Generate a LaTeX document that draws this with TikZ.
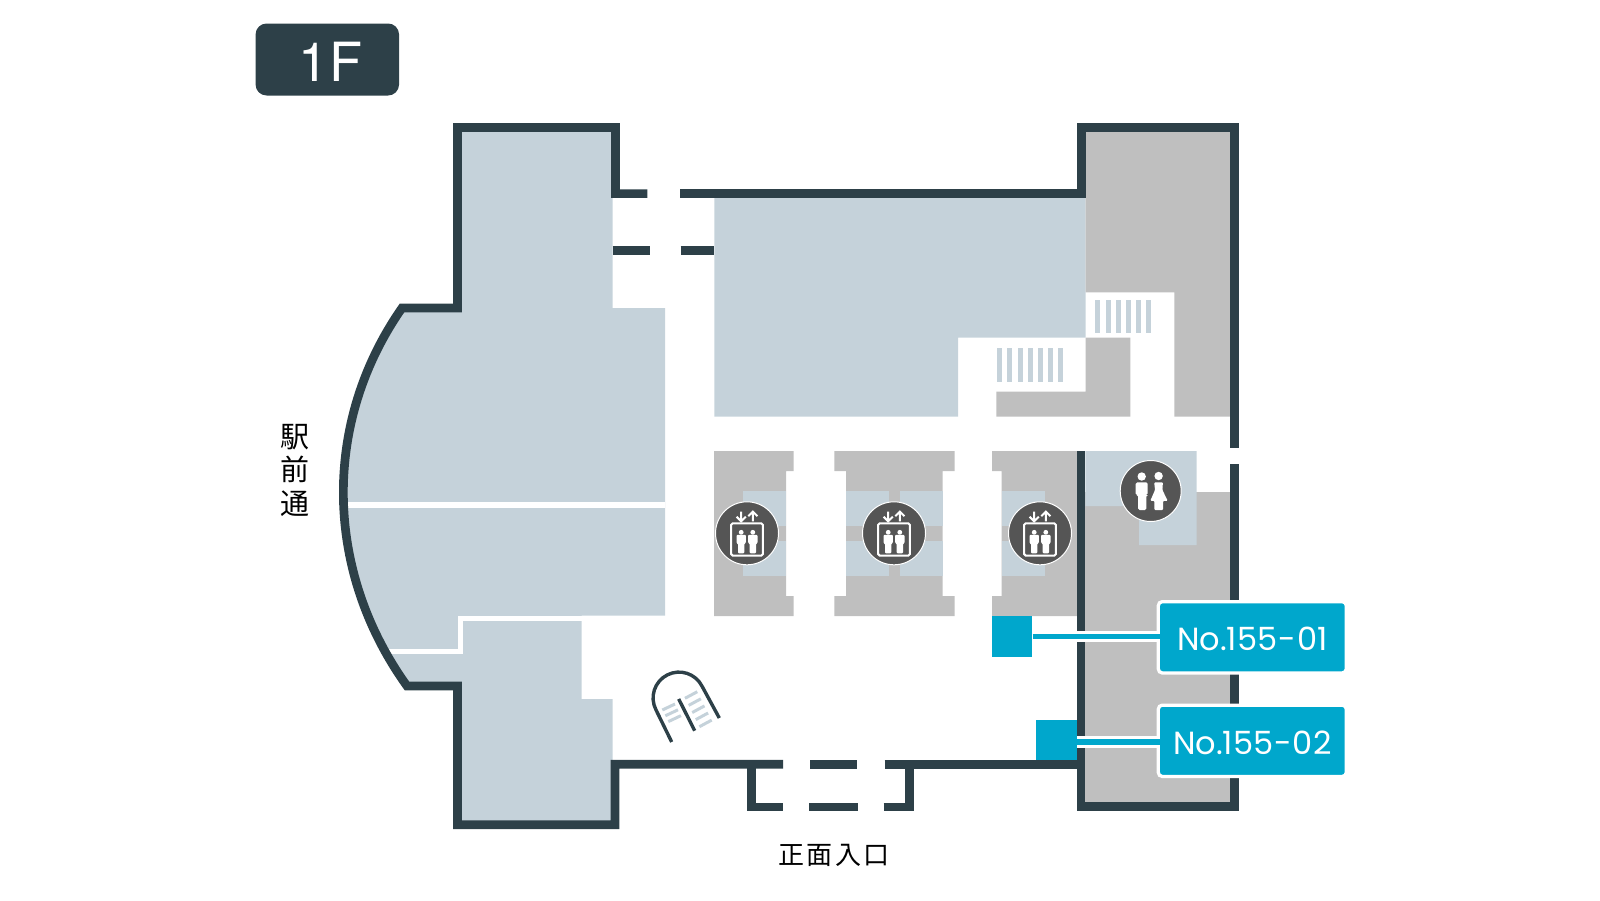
\documentclass[tikz,border=0pt]{standalone}
\usepackage{fontspec}
\newfontfamily\cjkfont{Noto Sans CJK JP}
\newfontfamily\labelfont{Poppins}
\newfontfamily\floorfont{TeX Gyre Heros}
\definecolor{wallcol}{HTML}{2D4048}
\definecolor{roomblue}{HTML}{C5D2DA}
\definecolor{roomgray}{HTML}{BFBFBF}
\definecolor{shopcol}{HTML}{00A7CC}
\definecolor{iconcol}{HTML}{555555}
\begin{document}
\begin{tikzpicture}
  [x=1pt,y=-1pt,every node/.style={inner sep=0pt}]
  \tikzstyle{wall} = [draw=wallcol,line width=8.7pt,miter limit=10]
  \tikzstyle{gap} = [draw=white,line width=5.4pt]
  \tikzstyle{floorbadge} = [fill=wallcol,rounded corners=11pt,minimum width=143.5pt,minimum height=72pt,text=white,font=\floorfont\fontsize{54}{54}\selectfont]
  \tikzstyle{iconcircle} = [circle,fill=iconcol,draw=white,line width=1pt,minimum size=63pt]
  \tikzstyle{iconline} = [draw=white,line width=2pt]
  \tikzstyle{shopsquare} = [fill=shopcol,minimum size=40.3pt]
  \tikzstyle{shoplabel} = [fill=shopcol,draw=white,line width=3.3pt,rounded corners=4pt,minimum width=188pt,minimum height=71.3pt,text=white,font=\labelfont\fontsize{32}{32}\selectfont]
  \tikzstyle{leaderback} = [draw=white,line width=11.7pt]
  \tikzstyle{leader} = [draw=shopcol,line width=5.8pt]
  \tikzstyle{place} = [text=black,align=center]
  \useasboundingbox (0,0) rectangle (1600,900);

  \fill[roomblue] (615,127) -- (457.4,127) -- (457.4,308) -- (402,308)
    .. controls (321.7,423) and (324.3,571) .. (407,686)
    -- (457.5,686) -- (457.5,825) -- (612.7,825) -- (612.7,699) -- (581.7,699)
    -- (581.7,615.7) -- (665,615.7) -- (665,308) -- (612.7,308) -- (612.7,190) -- (615,190) -- cycle;
  \fill[roomblue] (714.3,195) -- (1085.7,195) -- (1085.7,337.7) -- (958.2,337.7)
    -- (958.2,416.7) -- (714.3,416.7) -- cycle;
  \fill[roomgray] (1085.7,130) -- (1232,130) -- (1232,416.7) -- (1174.3,416.7)
    -- (1174.3,292.3) -- (1085.7,292.3) -- cycle;
  \fill[roomgray] (1085.7,337.7) -- (1130.4,337.7) -- (1130.4,416.7) -- (996.4,416.7)
    -- (996.4,391.7) -- (1085.7,391.7) -- cycle;

  \foreach \x in {1095.4,1105.6,...,1147}
    \fill[roomblue] (\x,300) rectangle +(5,33.3);
  \foreach \x in {997.1,1007.3,...,1059}
    \fill[roomblue] (\x,348.3) rectangle +(5,34);

  \fill[roomgray] (714,451) -- (793.7,451) -- (793.7,471) -- (786,471) -- (786,596)
    -- (793.7,596) -- (793.7,616) -- (714,616) -- cycle;
  \fill[roomgray] (834.3,451) -- (954.7,451) -- (954.7,471) -- (942.7,471) -- (942.7,596)
    -- (954.7,596) -- (954.7,616) -- (834.3,616) -- (834.3,596) -- (846,596)
    -- (846,471) -- (834.3,471) -- cycle;
  \fill[roomgray] (992,451) -- (1078,451) -- (1078,616) -- (992,616) -- (992,596)
    -- (1001.7,596) -- (1001.7,471) -- (992,471) -- cycle;
  \foreach \x /\w in {742.7/43.3,846/43.3,900/42.7,1001.7/43.3} {
    \fill[roomblue] (\x,491) rectangle +(\w,35);
    \fill[roomblue] (\x,540.7) rectangle +(\w,35);
  }

  \fill[roomgray] (1083,492.3) rectangle (1232,805);
  \fill[roomblue] (1085.3,451) -- (1196.7,451) -- (1196.7,545) -- (1139,545)
    -- (1139,506) -- (1085.3,506) -- cycle;

  \draw[gap] (340,505) -- (665,505);
  \draw[gap] (370,651.5) -- (460.2,651.5) -- (460.2,618.3) -- (665,618.3);

  \draw[wall] (647.3,193.6) -- (615.5,193.6) -- (615.5,127.4) -- (457.4,127.4) -- (457.4,308) -- (402,308)
    .. controls (321.7,423) and (324.3,571) .. (407,686)
    -- (457.5,686) -- (457.5,824.7) -- (615,824.7) -- (615,764.2) -- (783,764.2);
  \draw[wall] (680,193.6) -- (1081.5,193.6) -- (1081.5,127.4) -- (1234.7,127.4) -- (1234.7,448.3);
  \draw[wall] (612.7,250.2) -- (650.3,250.2);
  \draw[wall] (680.7,250.2) -- (714.3,250.2);
  \draw[wall] (1081,451) -- (1081,806.8) -- (1234.7,806.8) -- (1234.7,464.3);
  \draw[wall] (751.7,764) -- (751.7,807) -- (783.3,807);
  \draw[wall] (810,764.2) -- (857.3,764.2);
  \draw[wall] (809.3,807) -- (858.3,807);
  \draw[wall] (884.7,764.2) -- (1081,764.2);
  \draw[wall] (883.7,807) -- (909.3,807) -- (909.3,764.2);

  \draw[draw=wallcol,line width=3.4pt] (671.7,742) -- (655.9,709.7)
    .. controls (649.4,696.9) and (654.5,681.4) .. (667.3,674.9)
    .. controls (680.1,668.4) and (695.6,673.5) .. (702.1,686.3) -- (719.3,718);
  \draw[draw=wallcol,line width=3.4pt] (678.7,699) -- (694.7,730.7);
  \foreach \i in {0,...,4}
    \draw[draw=roomblue,line width=3pt,shift={(3.6*\i,7.1*\i)}] (685,698.3) -- (697.3,691.7);
  \foreach \i in {0,1,2}
    \draw[draw=roomblue,line width=3pt,shift={(3*\i,5.8*\i)}] (662.3,710) -- (675,704);

  \foreach \name /\x in {elev1/747,elev2/894,elev3/1040} {
    \node[iconcircle] (\name) at (\x,533.3) {};
    \begin{scope}[shift={(\x,533.3)}]
      \draw[iconline,rounded corners=1.5pt] (-15.8,-10) rectangle (15.8,22.3);
      \draw[iconline] (-5.8,-21.7) -- (-5.8,-12.5) (-10.4,-16.6) -- (-5.8,-12) -- (-1.2,-16.6);
      \draw[iconline] (5.8,-12) -- (5.8,-21.2) (1.2,-17.1) -- (5.8,-21.7) -- (10.4,-17.1);
      \foreach \p in {-5.8,5.8} {
        \fill[white] (\p,-1) circle (2.4);
        \fill[white,rounded corners=1pt] (\p-4.7,1.5) -- (\p+4.7,1.5) -- (\p+4.7,10) -- (\p+3.2,10)
          -- (\p+3.2,20) -- (\p-3.2,20) -- (\p-3.2,10) -- (\p-4.7,10) -- cycle;
      }
    \end{scope}
  }

  \node[iconcircle,minimum size=61pt] (toilet) at (1150.7,491) {};
  \begin{scope}[shift={(1150.7,491)}]
    \fill[white] (-9,-14.5) circle (4.2);
    \fill[white,rounded corners=1.5pt] (-15,-8.7) -- (-3,-8.7) -- (-3,4) -- (-4.3,4) -- (-4.3,19)
      -- (-12.7,19) -- (-12.7,4) -- (-15,4) -- cycle;
    \fill[white] (7.9,-15) circle (4.2);
    \fill[white,rounded corners=1pt] (3.5,-8.7) -- (12.2,-8.7) -- (11.7,-1) -- (17,9.8) -- (12.4,9.8) -- (12.4,19)
      -- (3.6,19) -- (3.6,9.8) -- (-.4,9.8) -- (4.3,-1) -- cycle;
  \end{scope}

  \node[shopsquare] (square1) at (1012.2,636.5) {};
  \node[shopsquare] (square2) at (1056.5,740) {};
  \node[shoplabel] (label1) at (1252.3,637.3) {\raisebox{-1.5pt}[\height][0pt]{No.155\kern1pt-\kern1pt01}};
  \node[shoplabel] (label2) at (1252.3,740.8) {\raisebox{-1.5pt}[\height][0pt]{No.155\kern1pt-\kern1pt02}};

  \draw[leaderback] ([xshift=-.3pt]square1.east) -- (square1.east -| label1.west);
  \draw[leader] (square1.east) -- ([xshift=4pt]square1.east -| label1.west);
  \draw[leaderback] ([yshift=-2pt]square2.east) -- ([yshift=-2pt]square2.east -| label2.west);
  \draw[leader] ([yshift=-2pt]square2.east) -- ([xshift=4pt,yshift=-2pt]square2.east -| label2.west);

  \node[floorbadge] (floor) at (327.3,59.5) {\raisebox{-2pt}[\height][0pt]{\hspace{7pt}1\hspace{1pt}F}};
  \node[place,font=\cjkfont\fontsize{29}{33.5}\selectfont] (station) at (295.3,470) {駅\\前\\通};
  \node[place,font=\cjkfont\fontsize{26}{26}\selectfont] (entrance) at (834,855.5) {正\kern2.6pt面\kern2.6pt入\kern2.6pt口};
\end{tikzpicture}
\end{document}
